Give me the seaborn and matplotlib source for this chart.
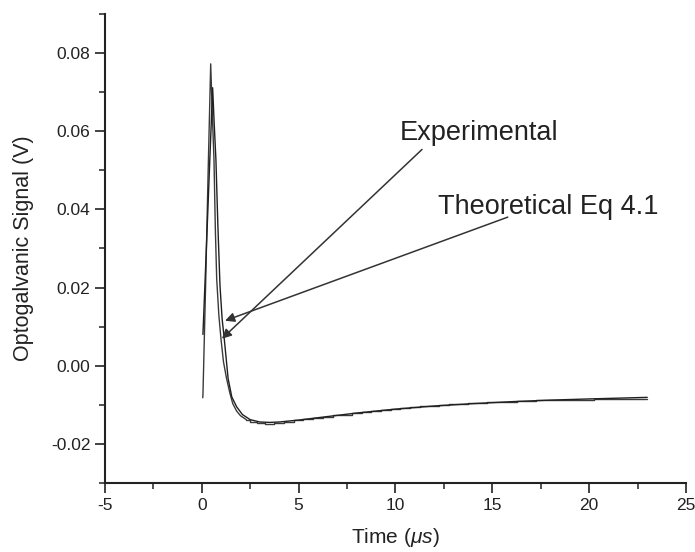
import matplotlib
matplotlib.use("Agg")
import matplotlib.pyplot as plt
import seaborn as sns
import pandas as pd
from matplotlib.ticker import MultipleLocator

# ---- data ----
exp_t = [0.05, 0.06, 0.20, 0.33, 0.46, 0.54, 0.63, 0.70, 0.77, 0.88, 0.99, 1.12, 1.28,
         1.45, 1.60, 1.80, 2.00, 2.30, 2.70, 3.00, 3.50, 4.00, 4.50, 5.00, 5.50, 6.00,
         6.50, 7.00, 7.50, 8.00, 8.50, 9.00, 9.50, 10.0, 10.5, 11.0, 11.5, 12.0, 12.5,
         13.0, 13.5, 14.0, 14.5, 15.0, 15.5, 16.0, 16.5, 17.0, 17.5, 18.0, 18.5, 19.0,
         19.5, 20.0, 20.5, 21.0, 21.5, 22.0, 22.5, 23.0]
exp_v = [-0.0082, -0.0075, 0.0210, 0.0500, 0.0772, 0.0650, 0.0527, 0.0350, 0.0222,
         0.0130, 0.0069, 0.0010, -0.0033, -0.0070, -0.0097, -0.0116, -0.0128, -0.0138,
         -0.0143, -0.0146, -0.0148, -0.0147, -0.0143, -0.0140, -0.0137, -0.0133, -0.0131,
         -0.0127, -0.0125, -0.0121, -0.0119, -0.0116, -0.0113, -0.0111, -0.0108, -0.0105,
         -0.0104, -0.0102, -0.0100, -0.0099, -0.0097, -0.0095, -0.0095, -0.0093, -0.0092,
         -0.0092, -0.0090, -0.0090, -0.0089, -0.0089, -0.0088, -0.0087, -0.0087, -0.0087,
         -0.0086, -0.0085, -0.0085, -0.0086, -0.0084, -0.0086]

theo_t = [0.06, 0.30, 0.56, 0.64, 0.73, 0.83, 0.94, 1.05, 1.16, 1.36, 1.55, 1.80, 2.10,
          2.50, 3.00, 3.50, 4.00, 5.00, 6.00, 7.00, 8.00, 10.0, 12.0, 14.0, 16.0, 18.0,
          20.0, 23.0]
theo_v = [0.0080, 0.0380, 0.0711, 0.0620, 0.0527, 0.0360, 0.0205, 0.0120, 0.0069,
          -0.0033, -0.0080, -0.0105, -0.0125, -0.0138, -0.0144, -0.0145, -0.0144,
          -0.0139, -0.0133, -0.0127, -0.0121, -0.0111, -0.0103, -0.0097, -0.0092,
          -0.0088, -0.0085, -0.0081]

x_ticks = [-5, 0, 5, 10, 15, 20, 25]
y_ticks = [-0.02, 0.00, 0.02, 0.04, 0.06, 0.08]
y_ticklabels = ["-0.02", "0.00", "0.02", "0.04", "0.06", "0.08"]

exp_label = "Experimental"
theo_label = "Theoretical Eq 4.1"

df_exp = pd.DataFrame({"t": exp_t, "v": exp_v})
df_theo = pd.DataFrame({"t": theo_t, "v": theo_v})
step_start = 2.3

sns.set_style("ticks")
plt.rcParams["font.family"] = ["Liberation Sans", "DejaVu Sans"]
plt.rcParams["mathtext.fontset"] = "custom"
plt.rcParams["mathtext.it"] = "Liberation Sans:italic"
plt.rcParams["mathtext.rm"] = "Liberation Sans"

fig = plt.figure(figsize=(6.95, 5.52), dpi=100)
ax = fig.add_axes([0.151, 0.125, 0.836, 0.85])

line_col = "#3a3a3a"
sns.lineplot(data=df_exp[df_exp.t <= step_start], x="t", y="v", ax=ax, sort=False,
             estimator=None, color=line_col, lw=1.0)
sns.lineplot(data=df_exp[df_exp.t >= step_start], x="t", y="v", ax=ax, sort=False,
             estimator=None, color=line_col, lw=1.0, drawstyle="steps-mid")
sns.lineplot(data=df_theo, x="t", y="v", ax=ax, sort=False, estimator=None,
             color="#202020", lw=1.0)

ax.set_xlim(-5, 25)
ax.set_ylim(-0.03, 0.09)
ax.set_xticks(x_ticks)
ax.set_xticklabels([str(v) for v in x_ticks])
ax.set_yticks(y_ticks)
ax.set_yticklabels(y_ticklabels)
ax.xaxis.set_minor_locator(MultipleLocator(2.5))
ax.yaxis.set_minor_locator(MultipleLocator(0.01))

ax.tick_params(which="major", direction="out", length=7, width=1.2,
               labelsize=12.5, colors="#222222")
ax.tick_params(which="minor", direction="out", length=4, width=1.1, colors="#222222")
for s in ("top", "right"):
    ax.spines[s].set_visible(False)
for s in ("left", "bottom"):
    ax.spines[s].set_linewidth(1.5)
    ax.spines[s].set_color("#222222")

ax.set_xlabel(r"Time ($\mu s$)", fontsize=15, color="#222222", labelpad=10)
ax.set_ylabel("Optogalvanic Signal (V)", fontsize=15.5, color="#222222", labelpad=12)

ax.text(10.23, 0.0576, exp_label, fontsize=19.5, ha="left", va="baseline", color="#222222")
ax.text(12.19, 0.0387, theo_label, fontsize=19.5, ha="left", va="baseline", color="#222222")

arrow_kw = dict(arrowstyle="-|>", color="#333333", lw=1.1, mutation_scale=14,
                shrinkA=0, shrinkB=0)
ax.annotate("", xy=(1.04, 0.0069), xytext=(11.37, 0.0553), arrowprops=arrow_kw)
ax.annotate("", xy=(1.20, 0.0115), xytext=(15.8, 0.038), arrowprops=arrow_kw)

fig.savefig("out.png", dpi=100)
